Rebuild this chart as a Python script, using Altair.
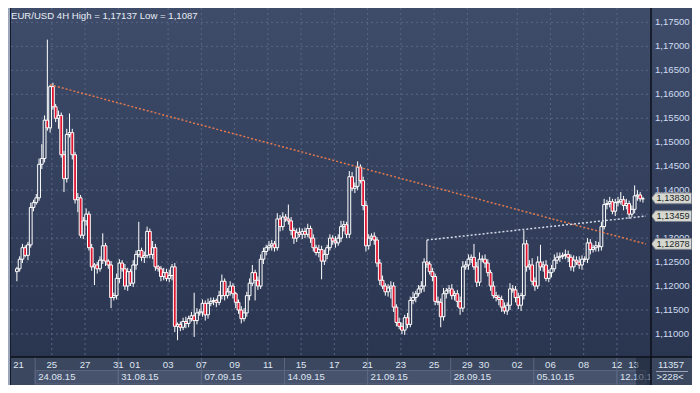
import altair as alt
import pandas as pd

# ---------------- data (prices in pips above 1.1000) ----------------
first_open = 230
close_pips = [
    236, 256, 280, 264, 286, 364, 374, 384, 454, 466,
    546, 530, 616, 574, 550, 556, 474, 424, 516, 520,
    474, 380, 384, 306, 336, 350, 280, 240, 244, 236,
    254, 284, 252, 244, 176, 180, 216, 248, 236, 200,
    230, 206, 244, 266, 274, 260, 264, 314, 266, 280,
    240, 236, 220, 228, 216, 222, 240, 116, 120, 114,
    126, 122, 132, 138, 128, 144, 146, 164, 140, 164,
    168, 170, 166, 180, 210, 180, 188, 200, 184, 166,
    150, 132, 144, 180, 206, 228, 212, 200, 256, 272,
    280, 284, 288, 280, 340, 324, 344, 340, 336, 316,
    300, 312, 308, 314, 308, 320, 300, 280, 270, 276,
    252, 266, 280, 300, 294, 290, 300, 324, 328, 308,
    428, 404, 408, 448, 420, 368, 284, 300, 304, 296,
    248, 212, 200, 188, 196, 200, 156, 124, 116, 108,
    134, 120, 170, 176, 184, 194, 200, 250, 246, 230,
    220, 168, 166, 136, 184, 190, 194, 180, 184, 168,
    154, 240, 244, 256, 260, 240, 208, 256, 256, 248,
    228, 200, 180, 176, 172, 156, 148, 160, 194, 192,
    176, 160, 180, 288, 240, 244, 210, 200, 250, 240,
    244, 216, 228, 236, 254, 260, 262, 264, 266, 260,
    240, 254, 250, 244, 256, 256, 290, 276, 280, 284,
    282, 324, 370, 372, 376, 356, 374, 376, 380, 368,
    372, 350, 360, 388, 390, 382, 382,
]
up_wick = [
    4, 6, 8, 5, 6, 10, 6, 8, 12, 30,
    10, 168, 4, 8, 6, 10, 6, 8, 12, 40,
    8, 6, 10, 6, 8, 12, 6, 8, 4, 6,
    8, 26, 6, 4, 8, 6, 10, 8, 6, 10,
    8, 6, 10, 8, 60, 6, 8, 10, 6, 14,
    8, 4, 6, 10, 8, 12, 6, 8, 4, 6,
    8, 10, 6, 8, 48, 10, 6, 8, 6, 10,
    8, 6, 4, 10, 14, 6, 8, 10, 6, 4,
    6, 8, 10, 8, 10, 16, 6, 8, 10, 8,
    6, 10, 8, 6, 12, 8, 10, 6, 30, 8,
    6, 8, 10, 6, 8, 10, 6, 8, 6, 10,
    8, 10, 6, 8, 6, 10, 8, 12, 8, 6,
    12, 10, 8, 12, 6, 8, 10, 8, 6, 8,
    6, 8, 10, 6, 8, 10, 8, 6, 10, 8,
    6, 10, 8, 12, 6, 8, 10, 8, 46, 6,
    8, 6, 10, 8, 12, 6, 8, 10, 6, 8,
    10, 12, 8, 10, 6, 28, 10, 14, 8, 10,
    8, 6, 10, 8, 6, 8, 10, 6, 12, 8,
    8, 10, 6, 28, 8, 10, 14, 8, 12, 36,
    8, 10, 6, 8, 12, 10, 8, 6, 10, 8,
    6, 10, 8, 12, 8, 6, 10, 8, 6, 10,
    8, 10, 12, 8, 10, 6, 8, 10, 16, 8,
    10, 6, 8, 22, 10, 6, 4,
]
down_wick = [
    20, 6, 8, 4, 10, 6, 8, 4, 6, 10,
    8, 6, 10, 6, 8, 22, 6, 28, 8, 6,
    10, 8, 26, 6, 8, 10, 6, 8, 38, 10,
    6, 8, 10, 8, 22, 6, 8, 10, 6, 8,
    10, 6, 8, 10, 6, 8, 12, 6, 8, 10,
    8, 6, 10, 8, 6, 8, 10, 12, 29, 8,
    6, 10, 8, 6, 34, 8, 6, 10, 12, 8,
    6, 8, 10, 6, 8, 10, 6, 8, 10, 12,
    8, 10, 6, 8, 10, 6, 42, 8, 6, 10,
    8, 6, 10, 8, 6, 10, 8, 6, 8, 10,
    12, 8, 6, 10, 8, 6, 10, 8, 6, 10,
    38, 8, 10, 6, 8, 10, 6, 8, 10, 8,
    8, 6, 10, 8, 6, 10, 12, 8, 6, 10,
    8, 10, 6, 8, 10, 22, 10, 8, 6, 8,
    10, 8, 6, 8, 10, 6, 8, 12, 8, 6,
    10, 8, 6, 22, 8, 10, 6, 8, 10, 12,
    14, 8, 6, 10, 8, 6, 10, 8, 6, 10,
    8, 10, 6, 8, 12, 10, 6, 8, 10, 6,
    10, 8, 12, 8, 10, 6, 8, 10, 6, 8,
    10, 6, 8, 10, 6, 8, 10, 6, 8, 10,
    8, 10, 6, 8, 10, 6, 8, 10, 6, 8,
    10, 8, 6, 10, 8, 6, 10, 8, 6, 10,
    8, 10, 6, 8, 10, 6, 8,
]

price_ticks = [1.110, 1.115, 1.120, 1.125, 1.130, 1.135, 1.140,
               1.145, 1.150, 1.155, 1.160, 1.165, 1.170, 1.175]
# price labels on the right axis (1,13500 lies fully under a price tag)
label_ticks = [1.110, 1.115, 1.120, 1.125, 1.130, 1.140,
               1.145, 1.150, 1.155, 1.160, 1.165, 1.170, 1.175]
day_idx = [0.6, 12.6, 24.6, 36.6, 42.6, 54.6, 66.6, 78.6, 90.6, 102.6, 114.6,
           126.6, 138.6, 150.6, 162.6, 168.6, 180.6, 192.6, 204.6, 216.6, 222.6]
day_lab = ["21", "25", "27", "31", "01", "03", "07", "09", "11", "15", "17",
           "21", "23", "25", "29", "30", "02", "06", "08", "12", "13"]
grid_idx = [12.6, 24.6, 36.6, 54.6, 66.6, 78.6, 90.6, 102.6, 114.6, 126.6,
            138.6, 150.6, 162.6, 180.6, 192.6, 204.6, 216.6]
week_idx = [6.6, 36.6, 66.6, 96.6, 126.6, 156.6, 186.6, 216.6]
week_lab = ["24.08.15", "31.08.15", "07.09.15", "14.09.15",
            "21.09.15", "28.09.15", "05.10.15", "12.10.15"]
tag_price = [1.13830, 1.13459, 1.12878]
tag_lab = ["1,13830", "1,13459", "1,12878"]
orange_idx = [12, 227.1]
orange_price = [1.1620, 1.12878]
white_idx = [148, 227.1]
white_price = [1.1296, 1.13459]
title_txt = "EUR/USD 4H High = 1,17137 Low = 1,1087"

# ---------------- build tables ----------------
rows = []
prev = first_open
for i, c in enumerate(close_pips):
    o = 1.1 + prev / 10000
    cl = 1.1 + c / 10000
    top, bot = max(o, cl), min(o, cl)
    rows.append(dict(idx=i, open=o, close=cl, top=top, bot=bot,
                     high=top + up_wick[i] / 10000, low=bot - down_wick[i] / 10000))
    prev = c
cdf = pd.DataFrame(rows)

PW, PH, TH = 640, 349, 377
FONT = "Liberation Sans"
FS = 9.6
GRID = "#586684"
RED = "#e0142e"
PANEL = "#3b475f"
TXT = "#dfe6f2"

XS = alt.Scale(domain=[-0.32, 227.1], nice=False, zero=False)
YS = alt.Scale(domain=[1.1052, 1.1780], nice=False, zero=False)


def xq(f="idx"):
    return alt.X(f + ":Q", scale=XS, axis=None)


def yq(f="price"):
    return alt.Y(f + ":Q", scale=YS, axis=None)


one = pd.DataFrame({"a": [0]})

bg = alt.Chart(one).mark_rect(
    color=alt.LinearGradient(
        gradient="linear",
        stops=[alt.GradientStop(color="#3e4c6a", offset=0),
               alt.GradientStop(color="#2a3550", offset=1)],
        x1=0, x2=0, y1=0, y2=1)
).encode(x=alt.value(-3), x2=alt.value(681), y=alt.value(0), y2=alt.value(PH))

bottom_panel = alt.Chart(one).mark_rect(color=PANEL).encode(
    x=alt.value(-3), x2=alt.value(681), y=alt.value(PH), y2=alt.value(TH))

hgrid = alt.Chart(pd.DataFrame({"price": price_ticks})).mark_rule(
    color=GRID, strokeDash=[2, 3], strokeWidth=1
).encode(y=yq(), x=alt.value(0), x2=alt.value(PW))

vgrid = alt.Chart(pd.DataFrame({"idx": grid_idx})).mark_rule(
    color=GRID, strokeDash=[2, 3], strokeWidth=1
).encode(x=xq(), y=alt.value(0), y2=alt.value(PH))

base = alt.Chart(cdf)
wick_up = base.mark_rule(color="white", strokeWidth=1).encode(
    x=xq(), y=yq("high"), y2="top:Q")
wick_dn = base.mark_rule(color="white", strokeWidth=1).encode(
    x=xq(), y=yq("bot"), y2="low:Q")
body = base.mark_bar(size=2.8, stroke="white", strokeWidth=1).encode(
    x=xq(), y=yq("open"), y2="close:Q",
    fill=alt.condition("datum.close < datum.open", alt.value(RED), alt.value("transparent")))

orange = alt.Chart(pd.DataFrame({"idx": orange_idx, "price": orange_price})).mark_line(
    color="#e2784e", strokeDash=[2, 2], strokeWidth=1.5).encode(x=xq(), y=yq())
white = alt.Chart(pd.DataFrame({"idx": white_idx, "price": white_price})).mark_line(
    color="#d4dbe8", strokeDash=[2, 2], strokeWidth=1.5).encode(x=xq(), y=yq())

ax_df = pd.DataFrame({"price": label_ticks,
                      "label": [("%.5f" % p).replace(".", ",") for p in label_ticks]})
ax_labels = alt.Chart(ax_df).mark_text(
    align="left", baseline="middle", font=FONT, fontSize=FS, color="#cfdcf0"
).encode(x=alt.value(644), y=yq(), text="label:N")

TAG = "M-1,0L-0.8,-0.27L1,-0.27L1,0.27L-0.8,0.27Z"
tag_df = pd.DataFrame({"price": tag_price, "label": tag_lab})
tags = alt.Chart(tag_df).mark_point(
    shape=TAG, size=1600, filled=True, fill="#d6d8cf", stroke="#7d8290",
    strokeWidth=1, opacity=1
).encode(x=alt.value(660.5), y=yq())
tag_text = alt.Chart(tag_df).mark_text(
    align="left", baseline="middle", font=FONT, fontSize=9.2, color="#1b1f2a"
).encode(x=alt.value(645.5), y=yq(), text="label:N")

title = alt.Chart(pd.DataFrame({"t": [title_txt]})).mark_text(
    align="left", baseline="middle", font=FONT, fontSize=FS, color="#e8edf5"
).encode(x=alt.value(0), y=alt.value(7.7), text="t:N")

wk_df = pd.DataFrame({"idx": week_idx, "end": week_idx[1:] + [227.1], "label": week_lab})
wk_boxes = alt.Chart(wk_df).mark_rect(fill="#47536c", stroke="#5a6580", strokeWidth=1).encode(
    x=xq(), x2="end:Q", y=alt.value(362.5), y2=alt.value(376))
wk_seps = alt.Chart(wk_df).mark_rule(color="#5c6782", strokeWidth=1).encode(
    x=xq(), y=alt.value(PH), y2=alt.value(TH))
wk_text = alt.Chart(wk_df).mark_text(
    align="left", baseline="middle", dx=3, font=FONT, fontSize=FS, color=TXT
).encode(x=xq(), y=alt.value(368.5), text="label:N")
day_text = alt.Chart(pd.DataFrame({"idx": day_idx, "label": day_lab})).mark_text(
    align="center", baseline="middle", font=FONT, fontSize=FS, color=TXT
).encode(x=xq(), y=alt.value(357.2), text="label:N")

overlay = alt.Chart(one).mark_rect(color="#1a2234", opacity=0.55).encode(
    x=alt.value(625), x2=alt.value(PW), y=alt.value(PH), y2=alt.value(TH))
rb_panel = alt.Chart(one).mark_rect(color=PANEL).encode(
    x=alt.value(PW), x2=alt.value(681), y=alt.value(PH), y2=alt.value(TH))
rb_text1 = alt.Chart(pd.DataFrame({"t": ["11357"]})).mark_text(
    align="center", baseline="middle", font=FONT, fontSize=FS, color=TXT
).encode(x=alt.value(660), y=alt.value(356.8), text="t:N")
rb_line = alt.Chart(one).mark_rule(color="#9aa4b6", strokeWidth=1).encode(
    x=alt.value(645), x2=alt.value(677), y=alt.value(363.5))
rb_text2 = alt.Chart(pd.DataFrame({"t": [">228<"]})).mark_text(
    align="center", baseline="middle", font=FONT, fontSize=FS, color=TXT
).encode(x=alt.value(659), y=alt.value(369), text="t:N")

border_v = alt.Chart(one).mark_rule(color="#0b0f18", strokeWidth=1.5).encode(
    x=alt.value(PW), y=alt.value(0), y2=alt.value(TH))
border_h = alt.Chart(one).mark_rule(color="#0b0f18", strokeWidth=1.5).encode(
    x=alt.value(-3), x2=alt.value(681), y=alt.value(PH))
left_strip = alt.Chart(one).mark_rect(color="#9ba6ba").encode(
    x=alt.value(-3), x2=alt.value(-1), y=alt.value(0), y2=alt.value(TH))
left_line = alt.Chart(one).mark_rule(color="#151b28", strokeWidth=1).encode(
    x=alt.value(-0.5), y=alt.value(0), y2=alt.value(TH))

chart = alt.layer(
    bg, bottom_panel, hgrid, vgrid, wick_up, wick_dn, body, orange, white,
    ax_labels, tags, tag_text, title,
    wk_boxes, wk_seps, day_text, wk_text, overlay, rb_panel,
    rb_text1, rb_line, rb_text2, border_v, border_h, left_strip, left_line
).properties(
    width=PW, height=PH,
    padding={"left": 3, "top": 0, "right": 41, "bottom": 28},
    autosize=alt.AutoSizeParams(type="none"),
    background="#2f3a52",
).configure_view(stroke=None)

chart.save("out.html", embed_options={"renderer": "svg", "actions": False})
